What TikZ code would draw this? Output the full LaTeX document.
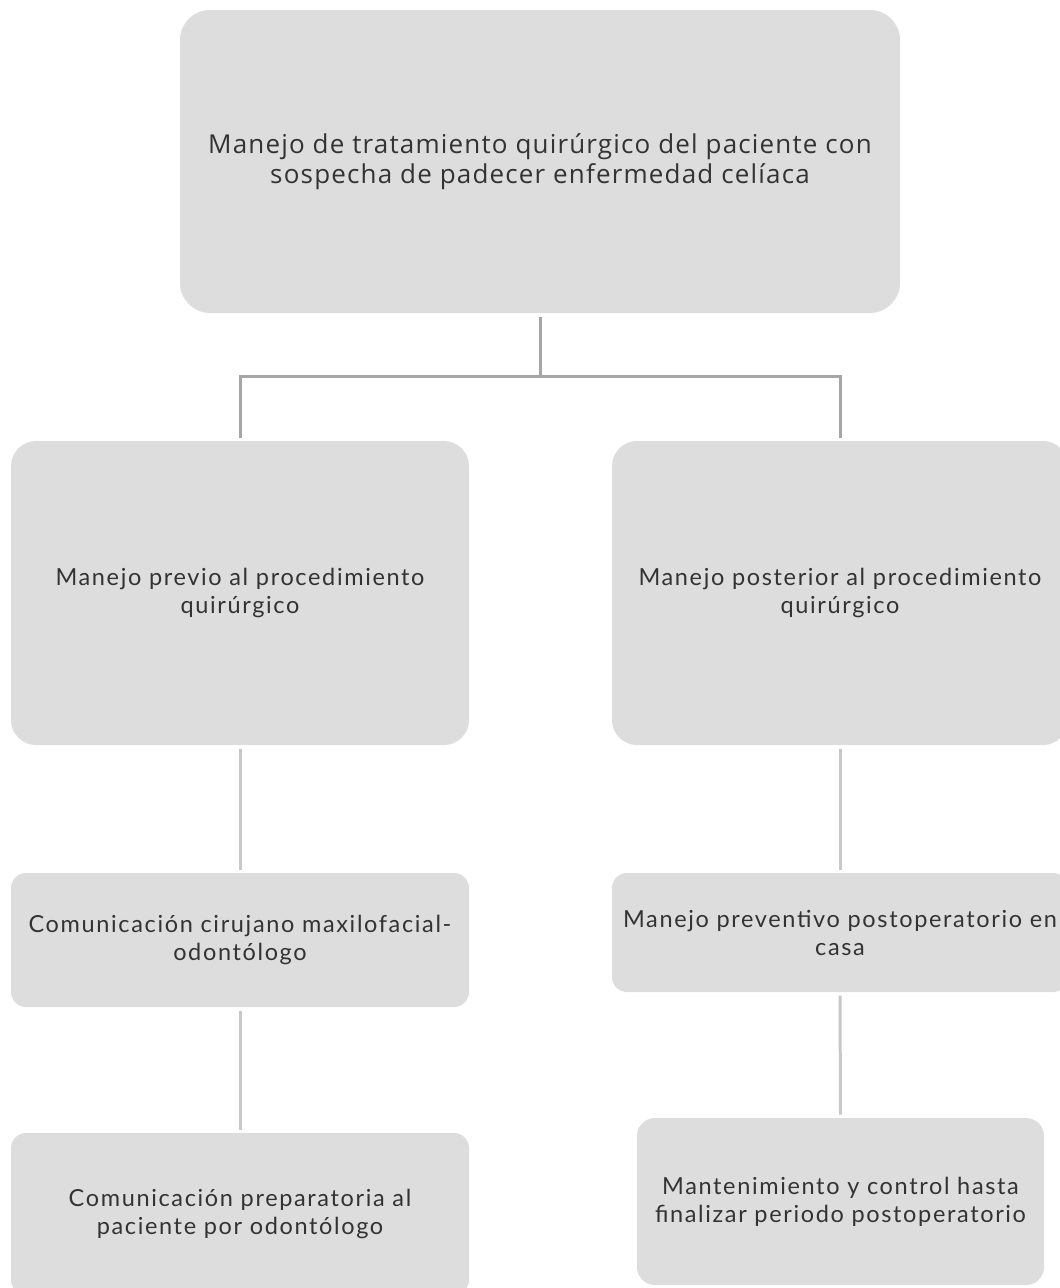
\documentclass[tikz,border=0pt]{standalone}
\usepackage{fontspec}
\setmainfont[LetterSpace=7]{Lato}
\newfontfamily\topfont[LetterSpace=4.5]{Open Sans}
\definecolor{boxgray}{HTML}{DDDDDD}
\definecolor{textgray}{HTML}{333333}
\definecolor{linedark}{HTML}{A6A6A6}
\definecolor{linelight}{HTML}{C8C8C8}
\begin{document}
\begin{tikzpicture}[x=1pt,y=-1pt,
  box/.style={fill=boxgray, rounded corners=25pt, inner sep=0pt, outer sep=3.5pt, align=center, text=textgray, font=\fontsize{23.5}{28}\selectfont},
  smallbox/.style={box, rounded corners=15pt},
  link/.style={line width=3pt, draw=linedark},
  linkl/.style={line width=3pt, draw=linelight}]
\useasboundingbox (0,0) rectangle (1060,1288);
\node[box, rounded corners=30pt, minimum width=720pt, minimum height=303pt, font=\topfont\fontsize{26}{30}\selectfont] (top) at (540,161.5)
  {Manejo de tratamiento quirúrgico del paciente con\\sospecha de padecer enfermedad celíaca};
\node[box, minimum width=458pt, minimum height=304pt] (left1) at (240,593)
  {Manejo previo al procedimiento\\quirúrgico};
\node[box, minimum width=456pt, minimum height=304pt] (right1) at (840,593)
  {Manejo posterior al procedimiento\\quirúrgico};
\node[smallbox, minimum width=458pt, minimum height=134pt] (left2) at (240,940)
  {Comunicación cirujano maxilofacial-\\odontólogo};
\node[smallbox, minimum width=456pt, minimum height=119pt] (right2) at (840,932.5)
  {Manejo preventivo postoperatorio en\\casa};
\node[smallbox, minimum width=458pt, minimum height=162pt] (left3) at (240,1214)
  {Comunicación preparatoria al\\paciente por odontólogo};
\node[smallbox, rounded corners=18pt, minimum width=407pt, minimum height=167pt] (right3) at (840.5,1201.5)
  {Mantenimiento y control hasta\\finalizar periodo postoperatorio};
\coordinate (j) at (540,376);
\draw[link] (top.south) -- (j);
\draw[link] (j) -| (left1.north);
\draw[link] (j) -| (right1.north);
\draw[linkl] (left1.south) -- (left2.north);
\draw[linkl] (left2.south) -- (left3.north);
\draw[linkl] (right1.south) -- (right2.north);
\draw[linkl] (right2.south) -- (right3.north);
\end{tikzpicture}
\end{document}
